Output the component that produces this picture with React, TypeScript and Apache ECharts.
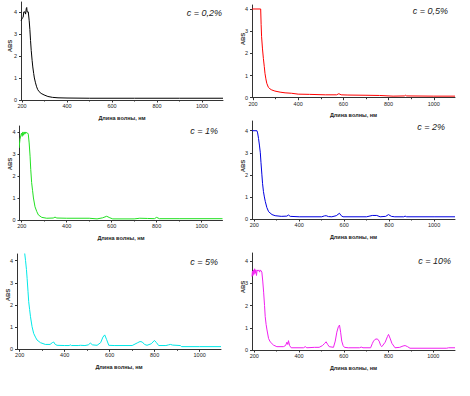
import React, { useEffect, useRef } from "react";
import * as echarts from "echarts";

// ---- data ----
const WAVE_LABELS = [200, 400, 600, 800, 1000];
const WAVE_MINOR = [300, 500, 700, 900];
const ABS_LABELS = [0, 1, 2, 3, 4];
const CONC_LABELS = ["c = 0,2%", "c = 0,5%", "c = 1%", "c = 2%", "c = 5%", "c = 10%"];
const X_TITLE = "Длина волны, нм";
const Y_TITLE = "ABS";

const spectrum02: [number, number][] = [
  [196, 3.6], [200, 3.7], [205, 3.75], [208, 4.0], [213, 4.0], [216, 3.9], [219, 4.15], [221, 4.2],
  [223, 4.0], [228, 4.0], [232, 3.6], [235, 3.2], [238, 2.7], [241, 2.25], [245, 1.8], [248, 1.5],
  [252, 1.2], [255, 1.0], [260, 0.78], [265, 0.6], [270, 0.47], [276, 0.38], [285, 0.3], [298, 0.23],
  [315, 0.16], [335, 0.12], [360, 0.1], [400, 0.09], [500, 0.08], [700, 0.08], [900, 0.08], [1093, 0.08],
];
const spectrum05: [number, number][] = [
  [196, 4.0], [234, 4.0], [236, 3.3], [238, 2.75], [242, 2.2], [246, 1.77], [250, 1.4], [253, 1.1],
  [257, 0.85], [261, 0.65], [268, 0.47], [275, 0.4], [283, 0.35], [297, 0.3], [320, 0.25], [342, 0.22],
  [370, 0.2], [400, 0.16], [450, 0.15], [520, 0.13], [570, 0.13], [580, 0.18], [590, 0.13], [620, 0.12],
  [700, 0.11], [760, 0.1], [820, 0.07], [870, 0.08], [875, 0.11], [880, 0.08], [1000, 0.07], [1094, 0.07],
];
const spectrum1: [number, number][] = [
  [188, 3.27], [192, 3.65], [196, 3.85], [199, 3.95], [202, 3.8], [205, 4.0], [208, 3.85], [211, 4.0],
  [214, 3.9], [218, 4.0], [222, 3.95], [226, 3.95], [229, 3.9], [233, 3.5], [237, 2.9], [240, 2.3],
  [244, 1.7], [248, 1.35], [252, 1.0], [259, 0.6], [267, 0.38], [274, 0.23], [289, 0.12], [311, 0.08],
  [340, 0.09], [348, 0.13], [356, 0.09], [400, 0.08], [500, 0.08], [535, 0.05], [560, 0.1], [578, 0.17],
  [592, 0.1], [605, 0.05], [700, 0.05], [725, 0.08], [760, 0.07], [790, 0.06], [800, 0.12], [812, 0.06],
  [900, 0.06], [1093, 0.06],
];
const spectrum2: [number, number][] = [
  [190, 4.0], [212, 4.0], [215, 3.9], [219, 3.65], [223, 3.35], [227, 3.0], [230, 2.55], [234, 2.0],
  [237, 1.6], [241, 1.24], [245, 1.0], [249, 0.8], [256, 0.52], [264, 0.33], [279, 0.2], [293, 0.15],
  [320, 0.12], [345, 0.13], [352, 0.18], [360, 0.12], [400, 0.1], [500, 0.1], [512, 0.14], [520, 0.15],
  [530, 0.11], [545, 0.1], [565, 0.15], [579, 0.26], [587, 0.15], [595, 0.1], [700, 0.1], [725, 0.16],
  [745, 0.16], [760, 0.1], [785, 0.12], [797, 0.2], [810, 0.12], [825, 0.1], [865, 0.1], [871, 0.13],
  [878, 0.1], [1000, 0.1], [1093, 0.1],
];
const spectrum5: [number, number][] = [
  [215, 4.7], [222, 4.35], [226, 4.0], [230, 3.6], [233, 3.2], [237, 2.6], [240, 2.15], [244, 1.8],
  [248, 1.47], [255, 1.02], [262, 0.72], [270, 0.55], [277, 0.42], [292, 0.3], [314, 0.22], [335, 0.22],
  [345, 0.3], [351, 0.33], [358, 0.22], [366, 0.18], [400, 0.17], [420, 0.17], [425, 0.2], [430, 0.17],
  [460, 0.17], [470, 0.18], [490, 0.17], [505, 0.2], [514, 0.28], [524, 0.2], [544, 0.18], [560, 0.3],
  [570, 0.55], [578, 0.65], [586, 0.45], [596, 0.18], [620, 0.17], [700, 0.17], [725, 0.3], [735, 0.35],
  [745, 0.33], [755, 0.22], [766, 0.18], [785, 0.25], [799, 0.4], [808, 0.3], [818, 0.17], [850, 0.17],
  [862, 0.2], [870, 0.22], [880, 0.19], [914, 0.17], [920, 0.12], [1000, 0.12], [1095, 0.12],
];
const spectrum10: [number, number][] = [
  [190, 3.3], [192, 3.55], [194, 3.35], [197, 3.6], [199, 3.4], [202, 3.65], [205, 3.45], [207, 3.6],
  [210, 3.35], [213, 3.6], [216, 3.55], [220, 3.6], [224, 3.5], [227, 3.6], [231, 3.55], [234, 3.5],
  [238, 3.1], [242, 2.6], [246, 2.0], [249, 1.5], [253, 1.15], [257, 0.9], [264, 0.52], [271, 0.37],
  [286, 0.22], [301, 0.15], [330, 0.15], [340, 0.2], [346, 0.35], [350, 0.25], [353, 0.42], [358, 0.2],
  [365, 0.1], [420, 0.1], [428, 0.15], [435, 0.1], [470, 0.12], [490, 0.12], [505, 0.2], [515, 0.3],
  [521, 0.37], [528, 0.25], [535, 0.15], [554, 0.12], [562, 0.4], [569, 0.8], [576, 1.05], [581, 1.12],
  [586, 0.8], [591, 0.4], [597, 0.2], [603, 0.12], [620, 0.1], [670, 0.1], [678, 0.13], [686, 0.1],
  [720, 0.1], [728, 0.3], [733, 0.4], [740, 0.48], [750, 0.5], [758, 0.4], [765, 0.2], [770, 0.15],
  [785, 0.35], [795, 0.6], [800, 0.7], [808, 0.5], [815, 0.3], [829, 0.1], [850, 0.12], [865, 0.18],
  [874, 0.2], [885, 0.15], [896, 0.08], [1060, 0.08], [1068, 0.1], [1097, 0.1],
];

const SPECTRA = [spectrum02, spectrum05, spectrum1, spectrum2, spectrum5, spectrum10];

// ---- layout & styles ----
const COLORS = ["#000000", "#ff0000", "#22e022", "#0000e0", "#00e8e8", "#f020f0"];
const PANELS = [
  { left: 21, top: 2, width: 202, height: 98, xMin: 195.6, xMax: 1093, yMax: 4.45, label: [222, 13], abs: [10, 46] },
  { left: 252, top: 5, width: 203, height: 92.7, xMin: 195.6, xMax: 1094, yMax: 4.18, label: [448, 11], abs: [242.5, 39] },
  { left: 19.5, top: 126, width: 203, height: 94, xMin: 190, xMax: 1093, yMax: 4.27, label: [218, 131], abs: [10, 164] },
  { left: 252, top: 121, width: 203, height: 98, xMin: 190, xMax: 1093, yMax: 4.44, label: [445, 127], abs: [242.5, 166] },
  { left: 17, top: 254, width: 204, height: 95.3, xMin: 188, xMax: 1095, yMax: 4.3, label: [218, 262], abs: [7.5, 295] },
  { left: 252, top: 253, width: 203, height: 97, xMin: 190, xMax: 1097, yMax: 4.36, label: [451, 261], abs: [242.5, 287] },
];
const FONT = "Liberation Sans, Arial, sans-serif";
const AXIS_COLOR = "#333333";

export default function App() {
  const ref = useRef<HTMLDivElement>(null);

  useEffect(() => {
    if (!ref.current) return;
    const chart = echarts.init(ref.current, undefined, { renderer: "svg" });

    const grid: any[] = [];
    const xAxis: any[] = [];
    const yAxis: any[] = [];
    const series: any[] = [];
    const graphic: any[] = [];

    PANELS.forEach((p, i) => {
      grid.push({ left: p.left, top: p.top, width: p.width, height: p.height, containLabel: false });
      xAxis.push({
        type: "value",
        gridIndex: i,
        min: p.xMin,
        max: p.xMax,
        position: "bottom",
        name: X_TITLE,
        nameLocation: "middle",
        nameGap: 14.5,
        nameTextStyle: { fontFamily: FONT, fontSize: 5.5, fontWeight: "bold", color: "#222" },
        axisLine: { onZero: false, lineStyle: { color: AXIS_COLOR, width: 1 } },
        axisTick: { show: true, customValues: WAVE_LABELS, length: 2.5, lineStyle: { color: AXIS_COLOR } },
        axisLabel: {
          customValues: WAVE_LABELS,
          formatter: (v: number) => String(v),
          fontFamily: FONT,
          fontSize: 5.5,
          color: "#222",
          margin: 3,
        },
        splitLine: { show: false },
      });
      xAxis.push({
        type: "value",
        gridIndex: i,
        min: p.xMin,
        max: p.xMax,
        position: "bottom",
        axisLine: { show: false, onZero: false },
        axisTick: { show: true, customValues: WAVE_MINOR, length: 1.5, lineStyle: { color: AXIS_COLOR } },
        axisLabel: { show: false },
        splitLine: { show: false },
      });
      yAxis.push({
        type: "value",
        gridIndex: i,
        min: 0,
        max: p.yMax,
        axisLine: { show: true, onZero: false, lineStyle: { color: AXIS_COLOR, width: 1 } },
        axisTick: { show: true, customValues: ABS_LABELS, length: 2, lineStyle: { color: AXIS_COLOR } },
        axisLabel: {
          customValues: ABS_LABELS,
          formatter: (v: number) => String(v),
          fontFamily: FONT,
          fontSize: 5.5,
          color: "#222",
          margin: 4,
        },
        splitLine: { show: false },
      });
      series.push({
        type: "line",
        xAxisIndex: i * 2,
        yAxisIndex: i,
        data: SPECTRA[i],
        showSymbol: false,
        symbol: "none",
        clip: true,
        lineStyle: { color: COLORS[i], width: 1 },
      });
      graphic.push({
        type: "text",
        x: p.label[0],
        y: p.label[1],
        style: {
          text: CONC_LABELS[i],
          align: "right",
          verticalAlign: "middle",
          font: `italic 9px ${FONT}`,
          fill: "#222",
        },
      });
      graphic.push({
        type: "text",
        x: p.abs[0],
        y: p.abs[1],
        rotation: Math.PI / 2,
        style: {
          text: Y_TITLE,
          align: "center",
          verticalAlign: "middle",
          font: `bold 6px ${FONT}`,
          fill: "#333",
        },
      });
    });

    chart.setOption({
      animation: false,
      backgroundColor: "#ffffff",
      grid,
      xAxis,
      yAxis,
      series,
      graphic,
    });

    return () => chart.dispose();
  }, []);

  return (
    <div
      ref={ref}
      style={{ position: "absolute", left: 0, top: 0, width: 470, height: 396 }}
    />
  );
}
